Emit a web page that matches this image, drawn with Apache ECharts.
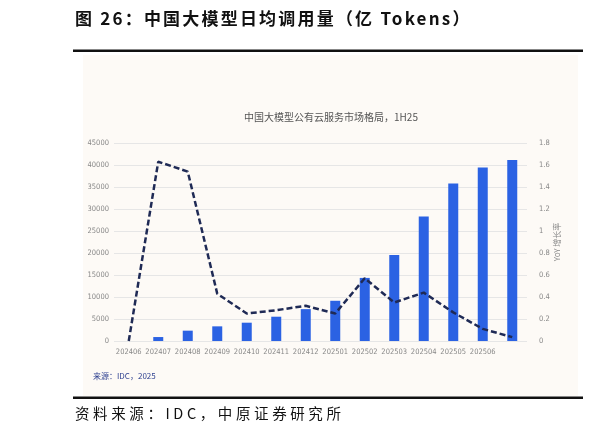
<!DOCTYPE html>
<html><head><meta charset="utf-8">
<script src="https://cdn.jsdelivr.net/npm/echarts@6/dist/echarts.min.js"></script>
<style>
html,body{margin:0;padding:0;background:#fff;width:608px;height:436px;overflow:hidden;}
#c{position:absolute;left:0;top:0;width:608px;height:436px;}
.t{position:absolute;white-space:nowrap;font-family:"Noto Sans CJK SC","Noto Sans",sans-serif;color:#111;}
</style></head>
<body>
<div id="c"></div>
<div class="t" style="left:75px;top:6px;font-size:17px;font-weight:bold;letter-spacing:2.2px;line-height:24px;">图 26：中国大模型日均调用量（亿 Tokens）</div>
<div class="t" style="left:75px;top:402px;font-size:14.5px;letter-spacing:3.6px;line-height:22px;">资料来源：IDC，中原证券研究所</div>
<script>
const categories = ['202406','202407','202408','202409','202410','202411','202412','202501','202502','202503','202504','202505','202506','202507'];
const tokens = [0, 900, 2350, 3330, 4160, 5520, 7240, 9140, 14340, 19520, 28300, 35790, 39420, 41150];
const yoy = [0, 1.63, 1.54, 0.43, 0.25, 0.28, 0.32, 0.25, 0.57, 0.35, 0.44, 0.26, 0.11, 0.035];
const leftTicks = {min: 0, max: 45000, interval: 5000};
const rightTicks = {min: 0, max: 1.8, interval: 0.2};

const chart = echarts.init(document.getElementById('c'));
const narrow = '"DejaVu Sans Condensed","Liberation Sans Narrow","Roboto",sans-serif';
chart.setOption({
  animation: false,
  graphic: [
    {type:'rect', z:-10, shape:{x:83,y:55,width:495,height:341}, style:{fill:'#fdfaf6'}},
    {type:'rect', shape:{x:73,y:49.5,width:510,height:2.5}, style:{fill:'#111'}},
    {type:'rect', shape:{x:73,y:396.5,width:510,height:2.5}, style:{fill:'#111'}},
    {type:'text', x:331, y:112, style:{text:'中国大模型公有云服务市场格局，1H25', textAlign:'center', fill:'#555', font:'10px "Noto Sans CJK SC",sans-serif'}},
    {type:'text', left:93, top:372, style:{text:'来源：IDC，2025', fill:'#2d3f8f', font:'8px "Noto Sans CJK SC",sans-serif'}}
  ],
  grid: {left: 114, right: 81, top: 143, bottom: 95, containLabel: false},
  xAxis: {
    type: 'category', data: categories,
    axisLine: {show: false}, axisTick: {show: false},
    axisLabel: {interval: 0, color: '#888', fontSize: 7.5, margin: 7, fontFamily: narrow,
      formatter: (v, i) => i === categories.length - 1 ? '' : v}
  },
  yAxis: [
    {type: 'value', min: leftTicks.min, max: leftTicks.max, interval: leftTicks.interval,
     axisLine:{show:false}, axisTick:{show:false},
     axisLabel:{color:'#888', fontSize:7.5, margin:5, fontFamily: narrow, formatter: v => String(v)},
     splitLine:{lineStyle:{color:'#e6e6e6', width:1}}},
    {type: 'value', min: rightTicks.min, max: rightTicks.max, interval: rightTicks.interval,
     position:'right',
     name: 'YoY 增长率', nameLocation: 'middle', nameRotate: 90, nameGap: 26, nameMoveOverlap: false,
     nameTextStyle: {color:'#888', fontSize: 8, fontFamily: '"Noto Sans CJK SC",sans-serif'},
     axisLine:{show:false}, axisTick:{show:false},
     axisLabel:{color:'#888', fontSize:7.5, margin:12, fontFamily: narrow, formatter: v => String(+v.toFixed(1))},
     splitLine:{show:false}}
  ],
  series: [
    {type:'bar', data: tokens, barWidth: 10, itemStyle:{color:'#2b62e3'}},
    {type:'line', yAxisIndex: 1, data: yoy, symbol:'none',
     lineStyle:{color:'#1f2a55', width:2.5, type:[6,3]}}
  ]
});
</script>
</body></html>
